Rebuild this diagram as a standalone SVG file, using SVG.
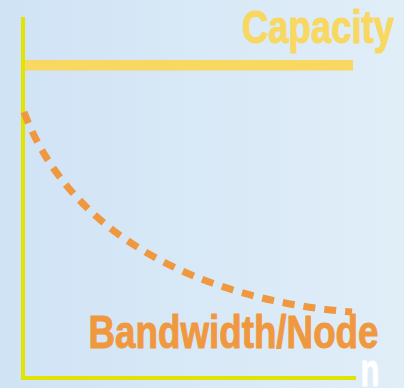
<svg xmlns="http://www.w3.org/2000/svg" width="404" height="388" viewBox="0 0 404 388">
<defs>
<linearGradient id="bg" x1="0" y1="0" x2="1" y2="0">
<stop offset="0" stop-color="#d0e3f5"/>
<stop offset="1" stop-color="#e0eef8"/>
</linearGradient>
<style>
.axis{stroke:#e0e400;stroke-width:4;fill:none}
.lbl{font-family:"Liberation Sans",Arial,sans-serif;font-weight:bold;font-size:46px;stroke-width:1;stroke-linejoin:round}
</style>
</defs>
<rect width="404" height="388" fill="url(#bg)"/>
<g id="axes">
<path class="axis" d="M23,17 V378 H356"/>
</g>
<g id="capacity">
<rect x="25" y="60" width="328" height="10.5" fill="#f8d860"/>
<text class="lbl" x="242" y="43" fill="#f8d860" stroke="#f8d860" textLength="152" lengthAdjust="spacingAndGlyphs">Capacity</text>
</g>
<g id="bandwidth">
<path d="M24,112 C70,235 200,300 352,312" fill="none" stroke="#f09840" stroke-width="7" stroke-dasharray="12 9"/>
<text class="lbl" x="88.5" y="348" fill="#f09840" stroke="#f09840" textLength="290" lengthAdjust="spacingAndGlyphs">Bandwidth/Node</text>
</g>
<g id="n-label">
<text class="lbl" x="360.5" y="386" fill="#ffffff" stroke="#ffffff" textLength="19" lengthAdjust="spacingAndGlyphs">n</text>
</g>
</svg>
